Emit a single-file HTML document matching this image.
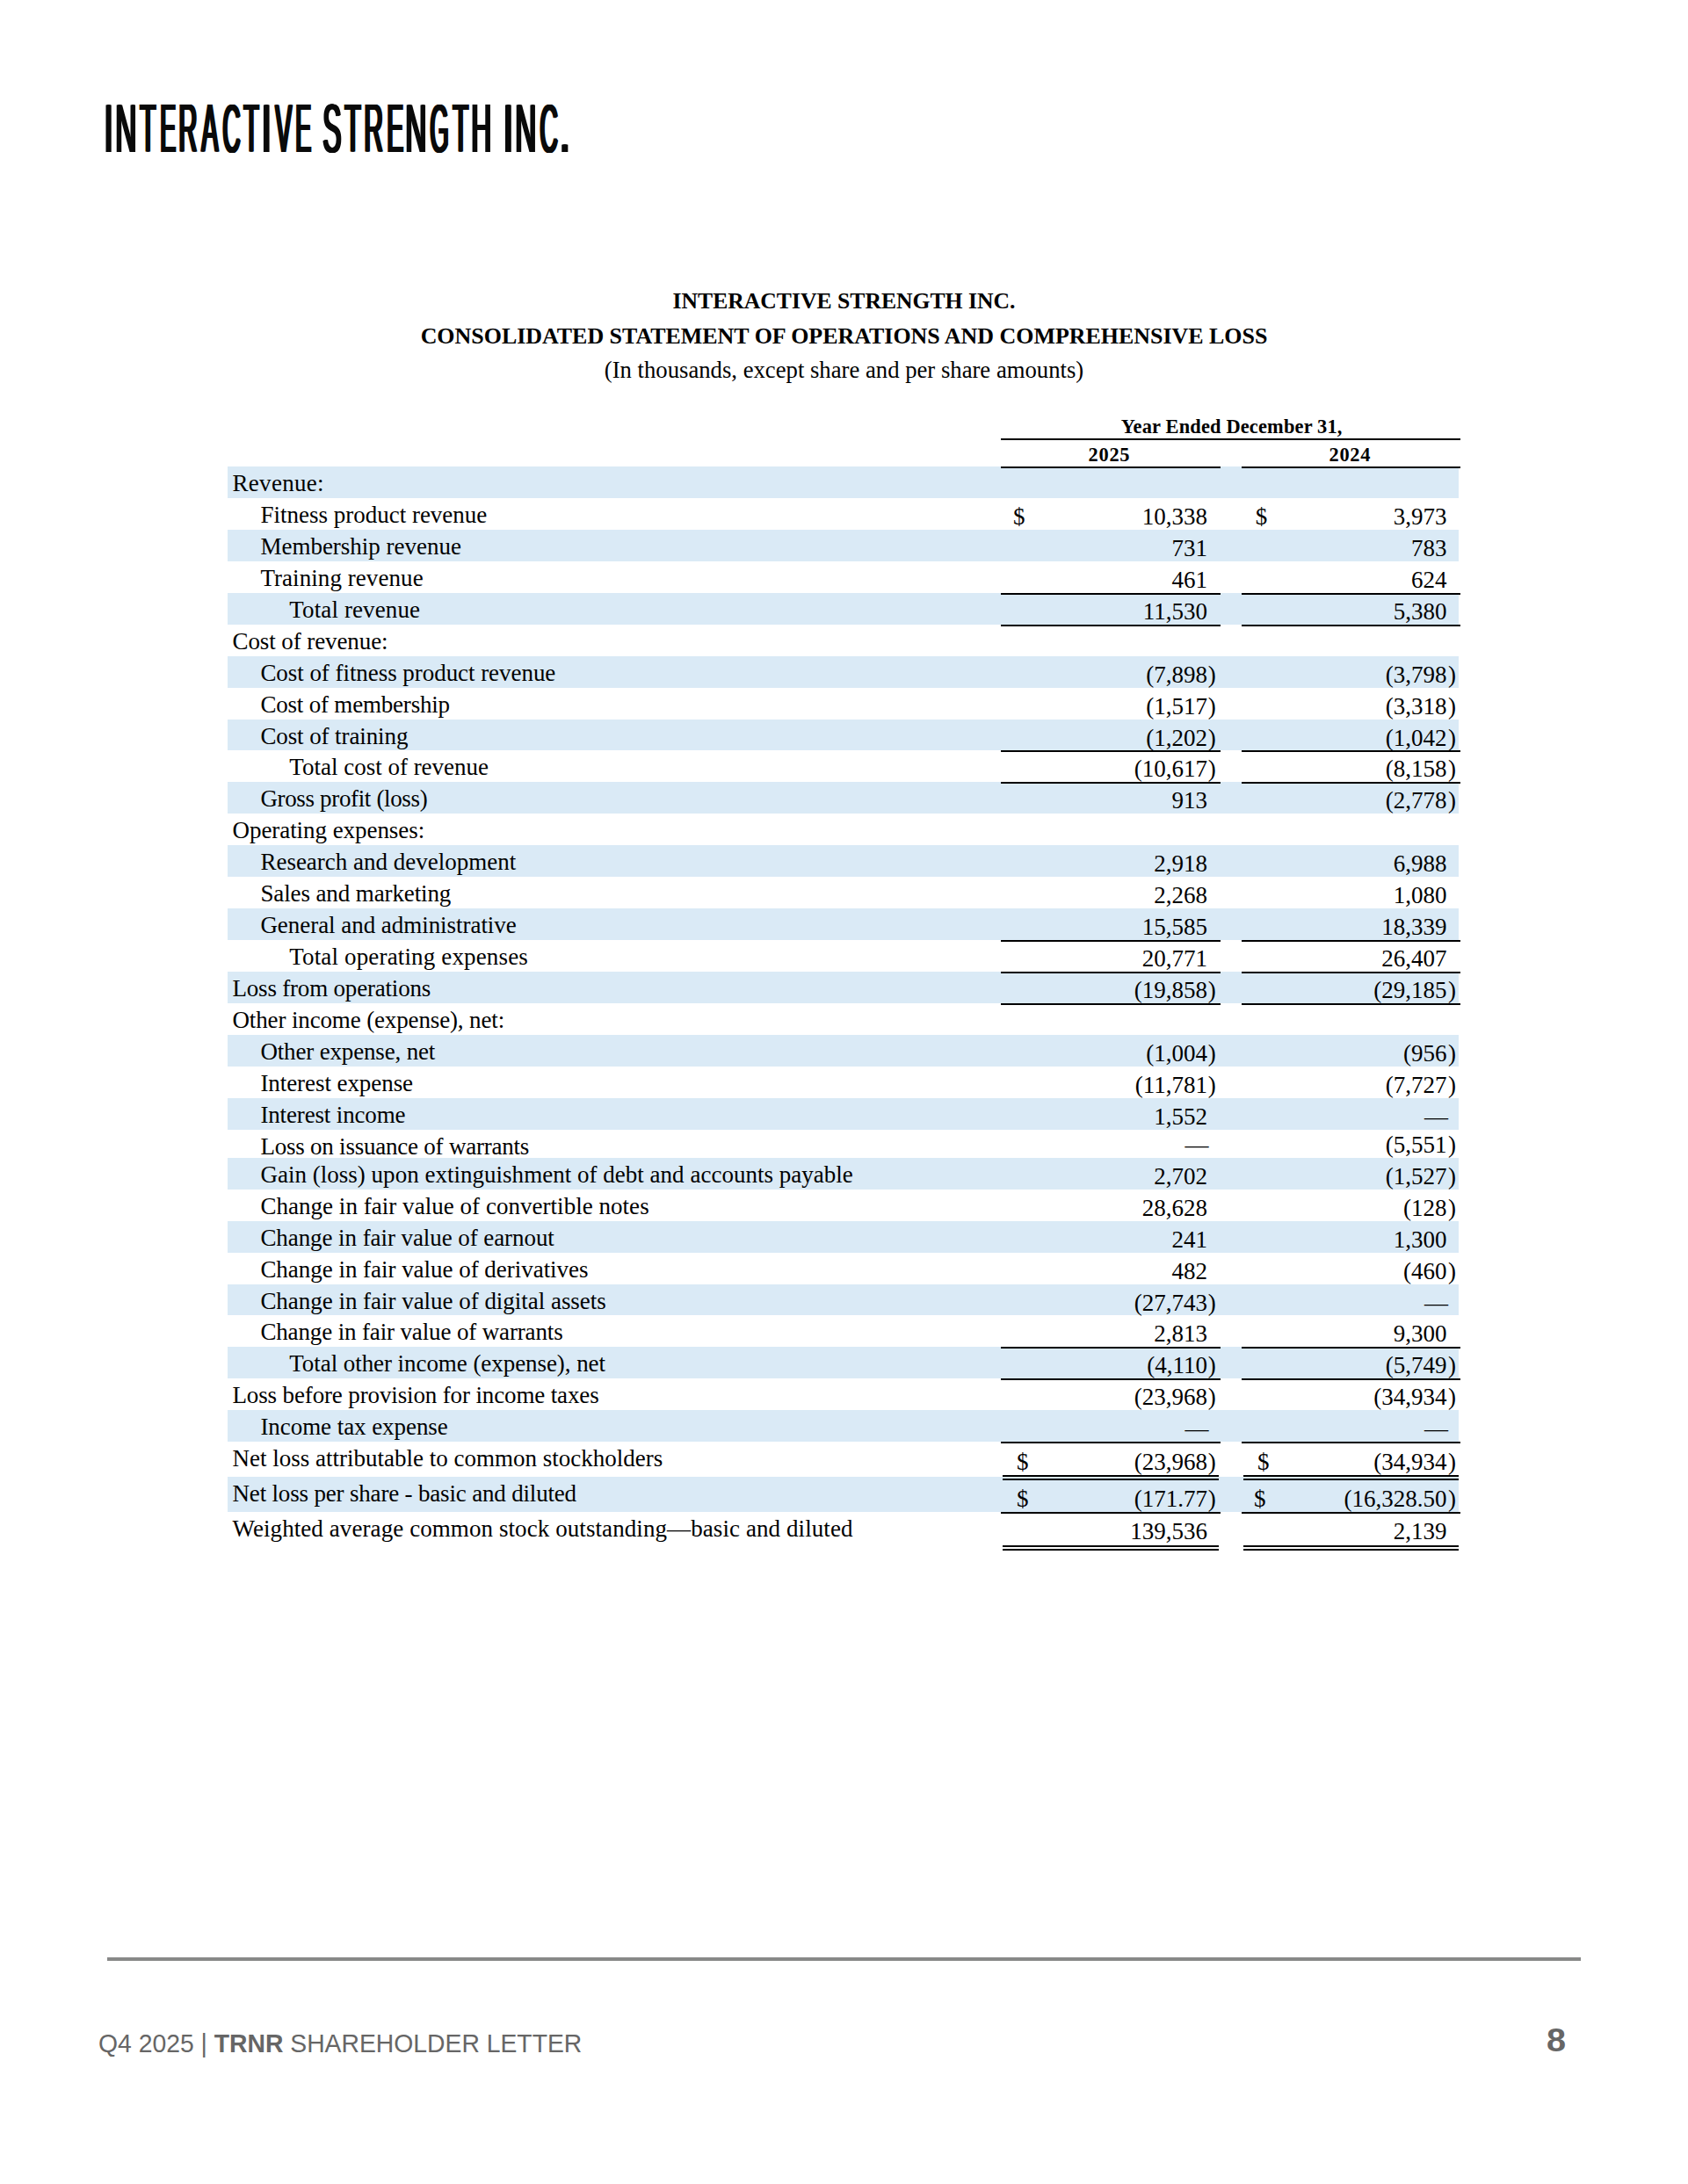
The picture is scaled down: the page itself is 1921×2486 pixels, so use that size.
<!DOCTYPE html><html><head><meta charset="utf-8"><title>Interactive Strength Inc. - Consolidated Statement of Operations</title><style>
html,body{margin:0;padding:0;background:#fff}
body{width:1921px;height:2486px;position:relative;overflow:hidden}
.a{position:absolute;white-space:pre}
.t{position:absolute;white-space:pre;font-family:'Liberation Serif', 'Times New Roman', serif;font-size:27px;line-height:27px;color:#000}
.r{text-align:right}
.z{display:inline-block;width:0;position:relative;left:0.8px}
.c24 .z{left:1.4px}
.band{position:absolute;left:259px;width:1401px;background:#DAEAF6}
.ln{position:absolute;height:2px;background:#000}
</style></head><body>
<div class="a" id="logo" style="left:0;top:0;width:700px;height:200px;font-family:'Liberation Sans', Arial, sans-serif;font-weight:400;font-size:77px;line-height:77px;color:#0a0a0a">
<span style="position:absolute;left:116.79px;top:108px;transform-origin:0 0;transform:scaleX(0.4875);text-shadow:1.44px 0 0 #0a0a0a,2.87px 0 0 #0a0a0a,4.31px 0 0 #0a0a0a,5.74px 0 0 #0a0a0a">I</span>
<span style="position:absolute;left:130.21px;top:108px;transform-origin:0 0;transform:scaleX(0.4318);text-shadow:1.62px 0 0 #0a0a0a,3.24px 0 0 #0a0a0a,4.86px 0 0 #0a0a0a,6.48px 0 0 #0a0a0a">N</span>
<span style="position:absolute;left:158.12px;top:108px;transform-origin:0 0;transform:scaleX(0.3800);text-shadow:1.84px 0 0 #0a0a0a,3.68px 0 0 #0a0a0a,5.53px 0 0 #0a0a0a,7.37px 0 0 #0a0a0a">T</span>
<span style="position:absolute;left:180.53px;top:108px;transform-origin:0 0;transform:scaleX(0.3452);text-shadow:2.03px 0 0 #0a0a0a,4.06px 0 0 #0a0a0a,6.08px 0 0 #0a0a0a,8.11px 0 0 #0a0a0a">E</span>
<span style="position:absolute;left:202.23px;top:107px;transform-origin:0 0;transform:scaleX(0.3783);text-shadow:1.85px 0 0 #0a0a0a,3.70px 0 0 #0a0a0a,5.55px 0 0 #0a0a0a,7.40px 0 0 #0a0a0a">R</span>
<span style="position:absolute;left:228.20px;top:108px;transform-origin:0 0;transform:scaleX(0.3686);text-shadow:1.90px 0 0 #0a0a0a,3.80px 0 0 #0a0a0a,5.70px 0 0 #0a0a0a,7.60px 0 0 #0a0a0a">A</span>
<span style="position:absolute;left:251.55px;top:108px;transform-origin:0 0;transform:scaleX(0.3633);text-shadow:1.93px 0 0 #0a0a0a,3.85px 0 0 #0a0a0a,5.78px 0 0 #0a0a0a,7.71px 0 0 #0a0a0a">C</span>
<span style="position:absolute;left:276.43px;top:108px;transform-origin:0 0;transform:scaleX(0.3667);text-shadow:1.91px 0 0 #0a0a0a,3.82px 0 0 #0a0a0a,5.73px 0 0 #0a0a0a,7.64px 0 0 #0a0a0a">T</span>
<span style="position:absolute;left:296.35px;top:108px;transform-origin:0 0;transform:scaleX(0.5500);text-shadow:1.27px 0 0 #0a0a0a,2.55px 0 0 #0a0a0a,3.82px 0 0 #0a0a0a,5.09px 0 0 #0a0a0a">I</span>
<span style="position:absolute;left:311.50px;top:108px;transform-origin:0 0;transform:scaleX(0.3647);text-shadow:1.92px 0 0 #0a0a0a,3.84px 0 0 #0a0a0a,5.76px 0 0 #0a0a0a,7.68px 0 0 #0a0a0a">V</span>
<span style="position:absolute;left:335.13px;top:108px;transform-origin:0 0;transform:scaleX(0.3452);text-shadow:2.03px 0 0 #0a0a0a,4.06px 0 0 #0a0a0a,6.08px 0 0 #0a0a0a,8.11px 0 0 #0a0a0a">E</span>
<span> </span>
<span style="position:absolute;left:366.36px;top:108px;transform-origin:0 0;transform:scaleX(0.4091);text-shadow:1.71px 0 0 #0a0a0a,3.42px 0 0 #0a0a0a,5.13px 0 0 #0a0a0a,6.84px 0 0 #0a0a0a">S</span>
<span style="position:absolute;left:390.81px;top:108px;transform-origin:0 0;transform:scaleX(0.3867);text-shadow:1.81px 0 0 #0a0a0a,3.62px 0 0 #0a0a0a,5.43px 0 0 #0a0a0a,7.24px 0 0 #0a0a0a">T</span>
<span style="position:absolute;left:413.08px;top:107px;transform-origin:0 0;transform:scaleX(0.3870);text-shadow:1.81px 0 0 #0a0a0a,3.62px 0 0 #0a0a0a,5.43px 0 0 #0a0a0a,7.24px 0 0 #0a0a0a">R</span>
<span style="position:absolute;left:438.61px;top:108px;transform-origin:0 0;transform:scaleX(0.3643);text-shadow:1.92px 0 0 #0a0a0a,3.84px 0 0 #0a0a0a,5.76px 0 0 #0a0a0a,7.69px 0 0 #0a0a0a">E</span>
<span style="position:absolute;left:460.21px;top:108px;transform-origin:0 0;transform:scaleX(0.4318);text-shadow:1.62px 0 0 #0a0a0a,3.24px 0 0 #0a0a0a,4.86px 0 0 #0a0a0a,6.48px 0 0 #0a0a0a">N</span>
<span style="position:absolute;left:488.08px;top:108px;transform-origin:0 0;transform:scaleX(0.3549);text-shadow:1.97px 0 0 #0a0a0a,3.94px 0 0 #0a0a0a,5.92px 0 0 #0a0a0a,7.89px 0 0 #0a0a0a">G</span>
<span style="position:absolute;left:513.52px;top:108px;transform-origin:0 0;transform:scaleX(0.3756);text-shadow:1.86px 0 0 #0a0a0a,3.73px 0 0 #0a0a0a,5.59px 0 0 #0a0a0a,7.46px 0 0 #0a0a0a">T</span>
<span style="position:absolute;left:535.05px;top:108px;transform-origin:0 0;transform:scaleX(0.4091);text-shadow:1.71px 0 0 #0a0a0a,3.42px 0 0 #0a0a0a,5.13px 0 0 #0a0a0a,6.84px 0 0 #0a0a0a">H</span>
<span> </span>
<span style="position:absolute;left:570.56px;top:108px;transform-origin:0 0;transform:scaleX(0.5625);text-shadow:1.24px 0 0 #0a0a0a,2.49px 0 0 #0a0a0a,3.73px 0 0 #0a0a0a,4.98px 0 0 #0a0a0a">I</span>
<span style="position:absolute;left:584.72px;top:108px;transform-origin:0 0;transform:scaleX(0.4295);text-shadow:1.63px 0 0 #0a0a0a,3.26px 0 0 #0a0a0a,4.89px 0 0 #0a0a0a,6.52px 0 0 #0a0a0a">N</span>
<span style="position:absolute;left:612.53px;top:108px;transform-origin:0 0;transform:scaleX(0.3673);text-shadow:1.91px 0 0 #0a0a0a,3.81px 0 0 #0a0a0a,5.72px 0 0 #0a0a0a,7.62px 0 0 #0a0a0a">C</span>
<span style="position:absolute;left:635.20px;top:108px;transform-origin:0 0;transform:scaleX(0.6000);text-shadow:1.17px 0 0 #0a0a0a,2.33px 0 0 #0a0a0a,3.50px 0 0 #0a0a0a,4.67px 0 0 #0a0a0a">.</span>
</div>
<div class="a" style="left:0;width:1921px;text-align:center;top:329.8px;font-family:'Liberation Serif', 'Times New Roman', serif;font-weight:700;font-size:25.66px;line-height:25.8px">INTERACTIVE STRENGTH INC.</div>
<div class="a" style="left:0;width:1921px;text-align:center;top:369.6px;font-family:'Liberation Serif', 'Times New Roman', serif;font-weight:700;font-size:25.95px;line-height:25.8px">CONSOLIDATED STATEMENT OF OPERATIONS AND COMPREHENSIVE LOSS</div>
<div class="a" style="left:0;width:1921px;text-align:center;top:408.4px;font-family:'Liberation Serif', 'Times New Roman', serif;font-size:26.7px;line-height:26.7px">(In thousands, except share and per share amounts)</div>
<div class="a" style="left:1140.2px;width:523px;text-align:center;top:474.9px;font-family:'Liberation Serif', 'Times New Roman', serif;font-weight:700;font-size:22.4px;line-height:22.4px;letter-spacing:0.17px">Year Ended December 31,</div>
<div class="ln" style="left:1139px;width:523px;top:499px"></div>
<div class="a" style="left:1238.6px;top:506.9px;font-family:'Liberation Serif', 'Times New Roman', serif;font-weight:700;font-size:22.4px;line-height:22.4px;letter-spacing:0.72px">2025</div>
<div class="a" style="left:1512.6px;top:506.9px;font-family:'Liberation Serif', 'Times New Roman', serif;font-weight:700;font-size:22.4px;line-height:22.4px;letter-spacing:0.65px">2024</div>
<div class="band" style="top:531px;height:36px"></div>
<div class="band" style="top:603px;height:36px"></div>
<div class="band" style="top:675px;height:36px"></div>
<div class="band" style="top:747px;height:36px"></div>
<div class="band" style="top:819px;height:35px"></div>
<div class="band" style="top:890px;height:36px"></div>
<div class="band" style="top:962px;height:36px"></div>
<div class="band" style="top:1034px;height:36px"></div>
<div class="band" style="top:1106px;height:36px"></div>
<div class="band" style="top:1178px;height:36px"></div>
<div class="band" style="top:1250px;height:36px"></div>
<div class="band" style="top:1318px;height:36px"></div>
<div class="band" style="top:1390px;height:36px"></div>
<div class="band" style="top:1462px;height:35px"></div>
<div class="band" style="top:1533px;height:36px"></div>
<div class="band" style="top:1605px;height:36px"></div>
<div class="band" style="top:1681px;height:40px"></div>
<div class="ln" style="left:1139px;width:250px;top:531px"></div>
<div class="ln" style="left:1413px;width:249px;top:531px"></div>
<div class="t" style="left:264.5px;top:537.0px;letter-spacing:0.300px">Revenue:</div>
<div class="t" style="left:296.4px;top:573.0px">Fitness product revenue</div>
<div class="t r" style="right:547.0px;top:574.8px">10,338</div>
<div class="t" style="left:1152.9px;top:574.8px">$</div>
<div class="t r c24" style="right:274.5px;top:574.8px">3,973</div>
<div class="t" style="left:1428.8px;top:574.8px">$</div>
<div class="t" style="left:296.4px;top:609.0px">Membership revenue</div>
<div class="t r" style="right:547.0px;top:610.8px">731</div>
<div class="t r c24" style="right:274.5px;top:610.8px">783</div>
<div class="t" style="left:296.4px;top:645.0px;letter-spacing:0.067px">Training revenue</div>
<div class="t r" style="right:547.0px;top:646.8px">461</div>
<div class="t r c24" style="right:274.5px;top:646.8px">624</div>
<div class="t" style="left:329.3px;top:681.0px;letter-spacing:0.125px">Total revenue</div>
<div class="t r" style="right:547.0px;top:682.8px">11,530</div>
<div class="t r c24" style="right:274.5px;top:682.8px">5,380</div>
<div class="t" style="left:264.5px;top:717.0px;letter-spacing:-0.093px">Cost of revenue:</div>
<div class="t" style="left:296.4px;top:753.0px;letter-spacing:-0.050px">Cost of fitness product revenue</div>
<div class="t r" style="right:547.0px;top:754.8px">(7,898<span class="z">)</span></div>
<div class="t r c24" style="right:274.5px;top:754.8px">(3,798<span class="z">)</span></div>
<div class="t" style="left:296.4px;top:789.0px;letter-spacing:-0.194px">Cost of membership</div>
<div class="t r" style="right:547.0px;top:790.8px">(1,517<span class="z">)</span></div>
<div class="t r c24" style="right:274.5px;top:790.8px">(3,318<span class="z">)</span></div>
<div class="t" style="left:296.4px;top:825.0px;letter-spacing:-0.100px">Cost of training</div>
<div class="t r" style="right:547.0px;top:826.8px">(1,202<span class="z">)</span></div>
<div class="t r c24" style="right:274.5px;top:826.8px">(1,042<span class="z">)</span></div>
<div class="t" style="left:329.3px;top:860.0px">Total cost of revenue</div>
<div class="t r" style="right:547.0px;top:861.8px">(10,617<span class="z">)</span></div>
<div class="t r c24" style="right:274.5px;top:861.8px">(8,158<span class="z">)</span></div>
<div class="t" style="left:296.4px;top:896.0px;letter-spacing:-0.344px">Gross profit (loss)</div>
<div class="t r" style="right:547.0px;top:897.8px">913</div>
<div class="t r c24" style="right:274.5px;top:897.8px">(2,778<span class="z">)</span></div>
<div class="t" style="left:264.5px;top:932.0px;letter-spacing:-0.056px">Operating expenses:</div>
<div class="t" style="left:296.4px;top:968.0px">Research and development</div>
<div class="t r" style="right:547.0px;top:969.8px">2,918</div>
<div class="t r c24" style="right:274.5px;top:969.8px">6,988</div>
<div class="t" style="left:296.4px;top:1004.0px;letter-spacing:-0.111px">Sales and marketing</div>
<div class="t r" style="right:547.0px;top:1005.8px">2,268</div>
<div class="t r c24" style="right:274.5px;top:1005.8px">1,080</div>
<div class="t" style="left:296.4px;top:1040.0px;letter-spacing:-0.040px">General and administrative</div>
<div class="t r" style="right:547.0px;top:1041.8px">15,585</div>
<div class="t r c24" style="right:274.5px;top:1041.8px">18,339</div>
<div class="t" style="left:329.3px;top:1076.0px;letter-spacing:0.152px">Total operating expenses</div>
<div class="t r" style="right:547.0px;top:1077.8px">20,771</div>
<div class="t r c24" style="right:274.5px;top:1077.8px">26,407</div>
<div class="t" style="left:264.5px;top:1112.0px;letter-spacing:-0.195px">Loss from operations</div>
<div class="t r" style="right:547.0px;top:1113.8px">(19,858<span class="z">)</span></div>
<div class="t r c24" style="right:274.5px;top:1113.8px">(29,185<span class="z">)</span></div>
<div class="t" style="left:264.5px;top:1148.0px;letter-spacing:-0.137px">Other income (expense), net:</div>
<div class="t" style="left:296.4px;top:1184.0px;letter-spacing:-0.159px">Other expense, net</div>
<div class="t r" style="right:547.0px;top:1185.8px">(1,004<span class="z">)</span></div>
<div class="t r c24" style="right:274.5px;top:1185.8px">(956<span class="z">)</span></div>
<div class="t" style="left:296.4px;top:1220.0px;letter-spacing:-0.067px">Interest expense</div>
<div class="t r" style="right:547.0px;top:1221.8px">(11,781<span class="z">)</span></div>
<div class="t r c24" style="right:274.5px;top:1221.8px">(7,727<span class="z">)</span></div>
<div class="t" style="left:296.4px;top:1256.0px;letter-spacing:-0.143px">Interest income</div>
<div class="t r" style="right:547.0px;top:1257.8px">1,552</div>
<div class="t r c24" style="right:273.0px;top:1257.8px">—</div>
<div class="t" style="left:296.4px;top:1292.0px;letter-spacing:-0.222px">Loss on issuance of warrants</div>
<div class="t r" style="right:545.5px;top:1290.4px">—</div>
<div class="t r c24" style="right:274.5px;top:1290.4px">(5,551<span class="z">)</span></div>
<div class="t" style="left:296.4px;top:1324.0px;letter-spacing:0.019px">Gain (loss) upon extinguishment of debt and accounts payable</div>
<div class="t r" style="right:547.0px;top:1325.8px">2,702</div>
<div class="t r c24" style="right:274.5px;top:1325.8px">(1,527<span class="z">)</span></div>
<div class="t" style="left:296.4px;top:1360.0px;letter-spacing:0.035px">Change in fair value of convertible notes</div>
<div class="t r" style="right:547.0px;top:1361.8px">28,628</div>
<div class="t r c24" style="right:274.5px;top:1361.8px">(128<span class="z">)</span></div>
<div class="t" style="left:296.4px;top:1396.0px;letter-spacing:-0.073px">Change in fair value of earnout</div>
<div class="t r" style="right:547.0px;top:1397.8px">241</div>
<div class="t r c24" style="right:274.5px;top:1397.8px">1,300</div>
<div class="t" style="left:296.4px;top:1432.0px;letter-spacing:-0.029px">Change in fair value of derivatives</div>
<div class="t r" style="right:547.0px;top:1433.8px">482</div>
<div class="t r c24" style="right:274.5px;top:1433.8px">(460<span class="z">)</span></div>
<div class="t" style="left:296.4px;top:1468.0px;letter-spacing:-0.027px">Change in fair value of digital assets</div>
<div class="t r" style="right:547.0px;top:1469.8px">(27,743<span class="z">)</span></div>
<div class="t r c24" style="right:273.0px;top:1469.8px">—</div>
<div class="t" style="left:296.4px;top:1503.0px;letter-spacing:-0.139px">Change in fair value of warrants</div>
<div class="t r" style="right:547.0px;top:1504.8px">2,813</div>
<div class="t r c24" style="right:274.5px;top:1504.8px">9,300</div>
<div class="t" style="left:329.3px;top:1539.0px;letter-spacing:-0.062px">Total other income (expense), net</div>
<div class="t r" style="right:547.0px;top:1540.8px">(4,110<span class="z">)</span></div>
<div class="t r c24" style="right:274.5px;top:1540.8px">(5,749<span class="z">)</span></div>
<div class="t" style="left:264.5px;top:1575.0px;letter-spacing:-0.135px">Loss before provision for income taxes</div>
<div class="t r" style="right:547.0px;top:1577.1px">(23,968<span class="z">)</span></div>
<div class="t r c24" style="right:274.5px;top:1577.1px">(34,934<span class="z">)</span></div>
<div class="t" style="left:296.4px;top:1611.0px;letter-spacing:-0.059px">Income tax expense</div>
<div class="t r" style="right:545.5px;top:1612.8px">—</div>
<div class="t r c24" style="right:273.0px;top:1612.8px">—</div>
<div class="t" style="left:264.5px;top:1647.0px">Net loss attributable to common stockholders</div>
<div class="t r" style="right:547.0px;top:1650.7px">(23,968<span class="z">)</span></div>
<div class="t" style="left:1156.9px;top:1650.7px">$</div>
<div class="t r c24" style="right:274.5px;top:1650.7px">(34,934<span class="z">)</span></div>
<div class="t" style="left:1431.0px;top:1650.7px">$</div>
<div class="t" style="left:264.5px;top:1687.0px;letter-spacing:-0.176px">Net loss per share - basic and diluted</div>
<div class="t r" style="right:547.0px;top:1692.8px">(171.77<span class="z">)</span></div>
<div class="t" style="left:1156.9px;top:1692.8px">$</div>
<div class="t r c24" style="right:274.5px;top:1692.8px">(16,328.50<span class="z">)</span></div>
<div class="t" style="left:1426.9px;top:1692.8px">$</div>
<div class="t" style="left:264.5px;top:1727.0px;letter-spacing:0.083px">Weighted average common stock outstanding—basic and diluted</div>
<div class="t r" style="right:547.0px;top:1730.3px">139,536</div>
<div class="t r c24" style="right:274.5px;top:1730.3px">2,139</div>
<div class="ln" style="left:1139px;width:250px;top:675px"></div>
<div class="ln" style="left:1413px;width:249px;top:675px"></div>
<div class="ln" style="left:1139px;width:250px;top:711px"></div>
<div class="ln" style="left:1413px;width:249px;top:711px"></div>
<div class="ln" style="left:1139px;width:250px;top:854px"></div>
<div class="ln" style="left:1413px;width:249px;top:854px"></div>
<div class="ln" style="left:1139px;width:250px;top:890px"></div>
<div class="ln" style="left:1413px;width:249px;top:890px"></div>
<div class="ln" style="left:1139px;width:250px;top:1070px"></div>
<div class="ln" style="left:1413px;width:249px;top:1070px"></div>
<div class="ln" style="left:1139px;width:250px;top:1106px"></div>
<div class="ln" style="left:1413px;width:249px;top:1106px"></div>
<div class="ln" style="left:1139px;width:250px;top:1142px"></div>
<div class="ln" style="left:1413px;width:249px;top:1142px"></div>
<div class="ln" style="left:1139px;width:250px;top:1533px"></div>
<div class="ln" style="left:1413px;width:249px;top:1533px"></div>
<div class="ln" style="left:1139px;width:250px;top:1569px"></div>
<div class="ln" style="left:1413px;width:249px;top:1569px"></div>
<div class="ln" style="left:1139px;width:250px;top:1641px"></div>
<div class="ln" style="left:1413px;width:249px;top:1641px"></div>
<div class="ln" style="left:1139px;width:250px;top:1721px"></div>
<div class="ln" style="left:1413px;width:249px;top:1721px"></div>
<div class="ln" style="left:1141px;width:246px;top:1679px"></div>
<div class="ln" style="left:1415px;width:245px;top:1679px"></div>
<div class="ln" style="left:1141px;width:246px;top:1683px"></div>
<div class="ln" style="left:1415px;width:245px;top:1683px"></div>
<div class="ln" style="left:1141px;width:246px;top:1759px"></div>
<div class="ln" style="left:1415px;width:245px;top:1759px"></div>
<div class="ln" style="left:1141px;width:246px;top:1763px"></div>
<div class="ln" style="left:1415px;width:245px;top:1763px"></div>
<div class="a" style="left:122px;top:2228px;width:1677px;height:4px;background:#888988"></div>
<div class="a" style="left:112px;top:2312px;font-family:'Liberation Sans', Arial, sans-serif;font-size:29px;line-height:29px;color:#666;transform-origin:0 0;transform:scaleX(0.9765)">Q4 2025 | <b>TRNR</b> SHAREHOLDER LETTER</div>
<div class="a" style="left:1760.4px;top:2305px;font-family:'Liberation Sans', Arial, sans-serif;font-weight:700;font-size:36px;line-height:36px;color:#666;transform-origin:0 0;transform:scaleX(1.1)">8</div>
</body></html>
